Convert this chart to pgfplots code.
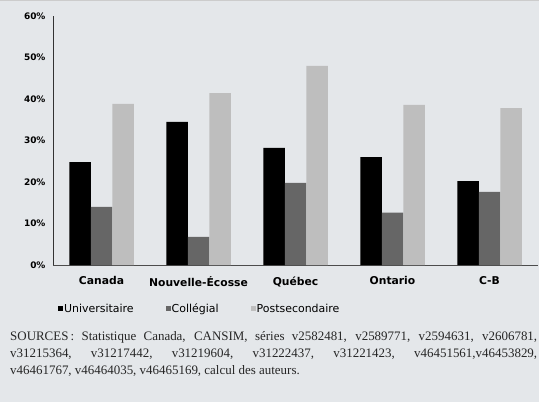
\documentclass[border=0pt]{standalone}
\usepackage{pgfplots}
\pgfplotsset{compat=1.18}
\usepackage{fontspec}
\setmainfont{DejaVu Sans}
\newfontfamily\srcfont{Liberation Serif}
\definecolor{bg}{HTML}{E4E7EA}
\definecolor{univ}{HTML}{000000}
\definecolor{coll}{HTML}{666666}
\definecolor{post}{HTML}{BEBEBE}
\begin{document}
\begin{tikzpicture}[x=1bp,y=1bp]
\fill[bg] (0,0) rectangle (539,402);
\draw[black!20, line width=1bp] (0,401.5) -- (539,401.5);
\begin{axis}[
  at={(53bp,137bp)}, anchor=south west,
  scale only axis, width=485bp, height=249bp,
  xmin=-0.5, xmax=4.5, ymin=0, ymax=60,
  ybar=0pt, bar width=21.5bp,
  axis x line*=bottom, axis y line*=left,
  x axis line style={-, black!70, line width=0.8bp},
  y axis line style={-, black!80, line width=0.8bp},
  major tick length=0pt,
  xtick={0,1,2,3,4},
  xticklabels={Canada,Nouvelle-Écosse,Québec,Ontario,C-B},
  x tick label style={font=\fontsize{10.8}{12}\selectfont\bfseries, yshift=-8bp},
  ytick={0,10,...,60},
  yticklabel={\pgfmathprintnumber{\tick}\%},
  y tick label style={font=\fontsize{9}{10}\selectfont\bfseries, xshift=-4bp},
  /pgf/number format/assume math mode=true,
  legend style={at={(0.004,-0.177)}, anchor=west, draw=none, fill=none,
    font=\fontsize{11}{12}\selectfont, legend columns=-1,
    /tikz/every odd column/.append style={column sep=0bp},
    /tikz/every even column/.append style={column sep=31bp},
    nodes={inner xsep=1bp}},
  legend image code/.code={\fill[#1] (0bp,-1.5bp) rectangle (5bp,3.5bp);},
  legend cell align=left,
]
\addplot[fill=univ, draw=none] coordinates {(0,24.8) (1,34.5) (2,28.2) (3,26.0) (4,20.2)};
\addplot[fill=coll, draw=none] coordinates {(0,14.0) (1,6.8) (2,19.8) (3,12.6) (4,17.6)};
\addplot[fill=post, draw=none] coordinates {(0,38.8) (1,41.4) (2,48.0) (3,38.6) (4,37.8)};
\legend{Universitaire,Collégial,Postsecondaire}
\end{axis}
\node[anchor=north west, inner sep=0pt, text width=527bp, align=justify,
  font=\srcfont\fontsize{13}{17.4}\selectfont, text=black!85] at (10bp,71bp)
  {SOURCES\,: Statistique Canada, CANSIM, séries v2582481, v2589771, v2594631, v2606781,\linebreak
   v31215364, v31217442, v31219604, v31222437, v31221423, v46451561,v46453829,\linebreak
   v46461767, v46464035, v46465169, calcul des auteurs.\par};
\pgfresetboundingbox
\useasboundingbox (0,0) rectangle (539,402);
\end{tikzpicture}
\end{document}
